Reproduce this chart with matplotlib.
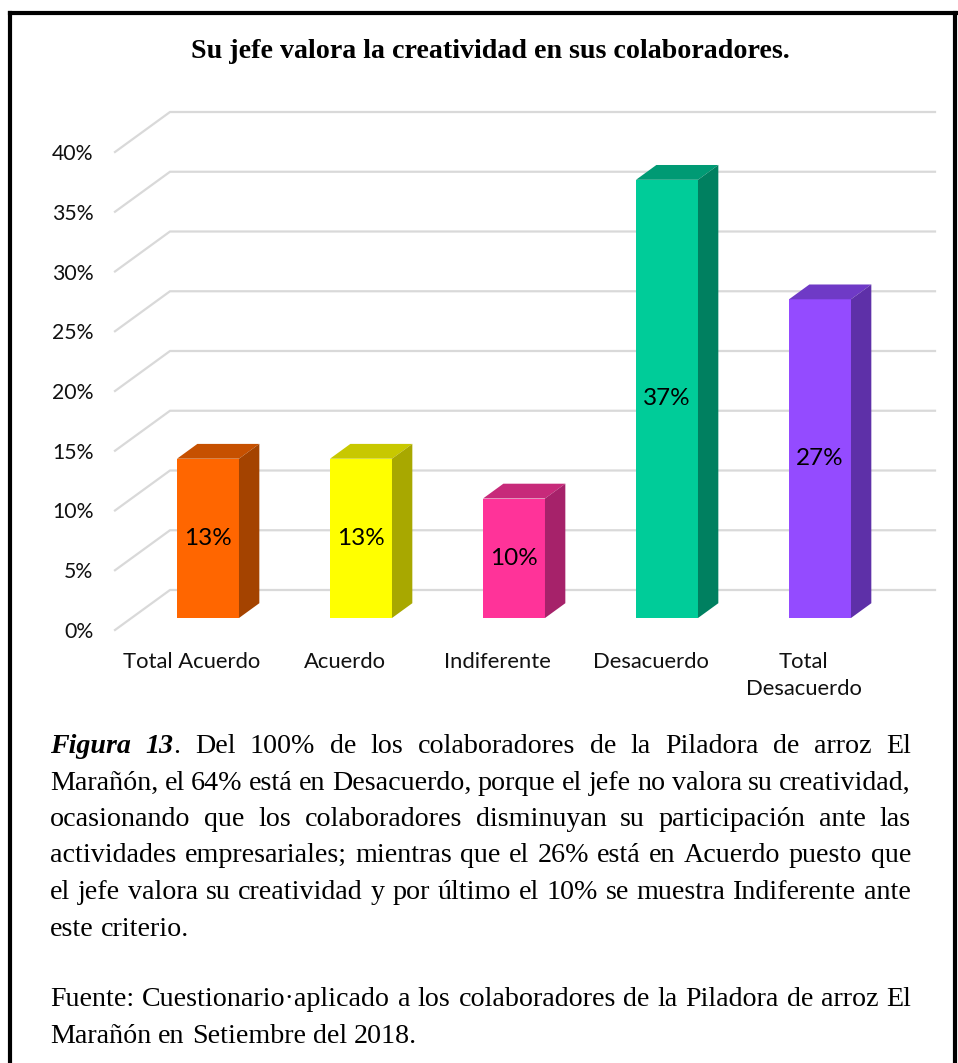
import numpy as np
import matplotlib
matplotlib.use("Agg")
import matplotlib.pyplot as plt
from matplotlib.patches import Polygon
from matplotlib.lines import Line2D
from matplotlib.transforms import IdentityTransform

# ---------------- data ----------------
categories = ["Total Acuerdo", "Acuerdo", "Indiferente", "Desacuerdo", "Total\nDesacuerdo"]
values = [13.33, 13.33, 10.0, 36.67, 26.67]          # percent
value_labels = ["13%", "13%", "10%", "37%", "27%"]
y_ticks = [0, 5, 10, 15, 20, 25, 30, 35, 40]
y_tick_labels = [f"{v}%" for v in y_ticks]

front_colors = ["#FF6600", "#FFFF00", "#FF3399", "#00CC99", "#944BFF"]
top_colors = ["#C65000", "#C8C800", "#C72A7A", "#009A74", "#6F3AC6"]
side_colors = ["#A44300", "#A8A800", "#A6226A", "#008060", "#5E30A8"]

title = "Su jefe valora la creatividad en sus colaboradores."

W_PX, H_PX = 958, 1063
fig = plt.figure(figsize=(W_PX / 100, H_PX / 100), dpi=100)
fig.patch.set_facecolor("white")

# axes geometry (pixels)
ax_left, ax_right = 115, 935
ax_bottom, ax_top = 630, 112
DX_PX, DY_PX = 55, 40
slot_px = (ax_right - DX_PX - ax_left) / 5
ax = fig.add_axes([ax_left / W_PX, 1 - ax_bottom / H_PX,
                   (ax_right - ax_left) / W_PX, (ax_bottom - ax_top) / H_PX])
px_per_pct = (ax_bottom - DY_PX - ax_top) / 40.0
DX = DX_PX / slot_px
DY = DY_PX / px_per_pct
ax.set_xlim(-0.5, 4.5 + DX)
ax.set_ylim(0, 40 + DY)
for s in ax.spines.values():
    s.set_visible(False)
ax.set_facecolor("none")

label_font = "Lato"
ax.set_yticks(y_ticks)
ax.set_yticklabels(y_tick_labels, fontsize=15.3, family=label_font, color="#111111")
ax.set_xticks(range(len(categories)))
ax.set_xticklabels(categories, fontsize=15.8, family=label_font, color="#111111",
                   linespacing=1.45)
ax.tick_params(axis="y", length=0, pad=15.5)
ax.tick_params(axis="x", length=0, pad=15.5)

# gridlines (oblique floor/wall)
for v in y_ticks:
    ax.plot([-0.5, -0.5 + DX, 4.5 + DX], [v, v + DY, v + DY],
            color="#D9D9D9", lw=1.6, zorder=1, clip_on=False,
            solid_joinstyle="miter")

# 3D-looking bars
t0, td = 0.30, 0.37
bw = 0.405
xc = np.arange(len(categories)) + t0 * DX
base = t0 * DY
ax.bar(xc, values, width=bw, bottom=base, color=front_colors, zorder=3,
       linewidth=0)
ddx, ddy = td * DX, td * DY
for i, v in enumerate(values):
    x0, x1 = xc[i] - bw / 2, xc[i] + bw / 2
    top = base + v
    ax.add_patch(Polygon([(x0, top), (x0 + ddx, top + ddy), (x1 + ddx, top + ddy), (x1, top)],
                         closed=True, facecolor=top_colors[i], edgecolor="none", zorder=3))
    ax.add_patch(Polygon([(x1, base), (x1, top), (x1 + ddx, top + ddy), (x1 + ddx, base + ddy)],
                         closed=True, facecolor=side_colors[i], edgecolor="none", zorder=3))
    ax.text(xc[i], base + v / 2, value_labels[i], ha="center", va="center",
            fontsize=17.5, family=label_font, color="black", zorder=4)

# title
fig.text(490 / W_PX, 1 - 51 / H_PX, title, ha="center", va="center",
         fontsize=20.2, fontweight="bold", family="Liberation Serif")

# border (top, left, right)
for xs, ys in [((10, 956), (13, 13)), ((10, 10), (13, H_PX + 5)), ((955, 955), (13, H_PX + 5))]:
    fig.add_artist(Line2D([x / W_PX for x in xs], [1 - y / H_PX for y in ys],
                          color="black", lw=3.0, transform=fig.transFigure))

# caption with justified lines
fig.canvas.draw()
renderer = fig.canvas.get_renderer()
serif = "Liberation Serif"
cap_size = 20.2
regular = dict(family=serif, fontsize=cap_size)
bolditalic = dict(family=serif, fontsize=cap_size, style="italic", weight="bold")


def width_of(text, style):
    t = fig.text(0, 0, text, transform=IdentityTransform(), **style)
    w = t.get_window_extent(renderer).width
    t.remove()
    return w


space_w = width_of("x x", regular) - width_of("xx", regular)

caption_lines = [
    ([[("Figura", bolditalic)], [("13", bolditalic), (".", regular)], "Del", "100%", "de", "los",
      "colaboradores", "de", "la", "Piladora", "de", "arroz", "El"], True),
    ("Marañón, el 64% está en Desacuerdo, porque el jefe no valora su creatividad,", True),
    ("ocasionando que los colaboradores disminuyan su participación ante las", True),
    ("actividades empresariales; mientras que el 26% está en Acuerdo puesto que", True),
    ("el jefe valora su creatividad y por último el 10% se muestra Indiferente ante", True),
    ("este criterio.", False),
    ("Fuente: Cuestionario·aplicado a los colaboradores de la Piladora de arroz El", True),
    ("Marañón en Setiembre del 2018.", False),
]
baselines = [753, 789.5, 826, 862.5, 899, 935.5, 1006.5, 1043]
left_px, right_px = 50, 911

for (line, justify), yb in zip(caption_lines, baselines):
    if isinstance(line, str):
        words = [[(w, regular)] for w in line.split(" ")]
    else:
        words = [w if isinstance(w, list) else [(w, regular)] for w in line]
    widths = [[width_of(s, st) for s, st in w] for w in words]
    total = sum(sum(ws) for ws in widths)
    if justify and len(words) > 1:
        gap = (right_px - left_px - total) / (len(words) - 1)
    else:
        gap = space_w
    x = left_px
    for w, ws in zip(words, widths):
        for (s, st), sw in zip(w, ws):
            fig.text(x, H_PX - yb, s, transform=IdentityTransform(), ha="left",
                     va="baseline", **st)
            x += sw
        x += gap

fig.savefig("out.png", dpi=100, facecolor="white")
